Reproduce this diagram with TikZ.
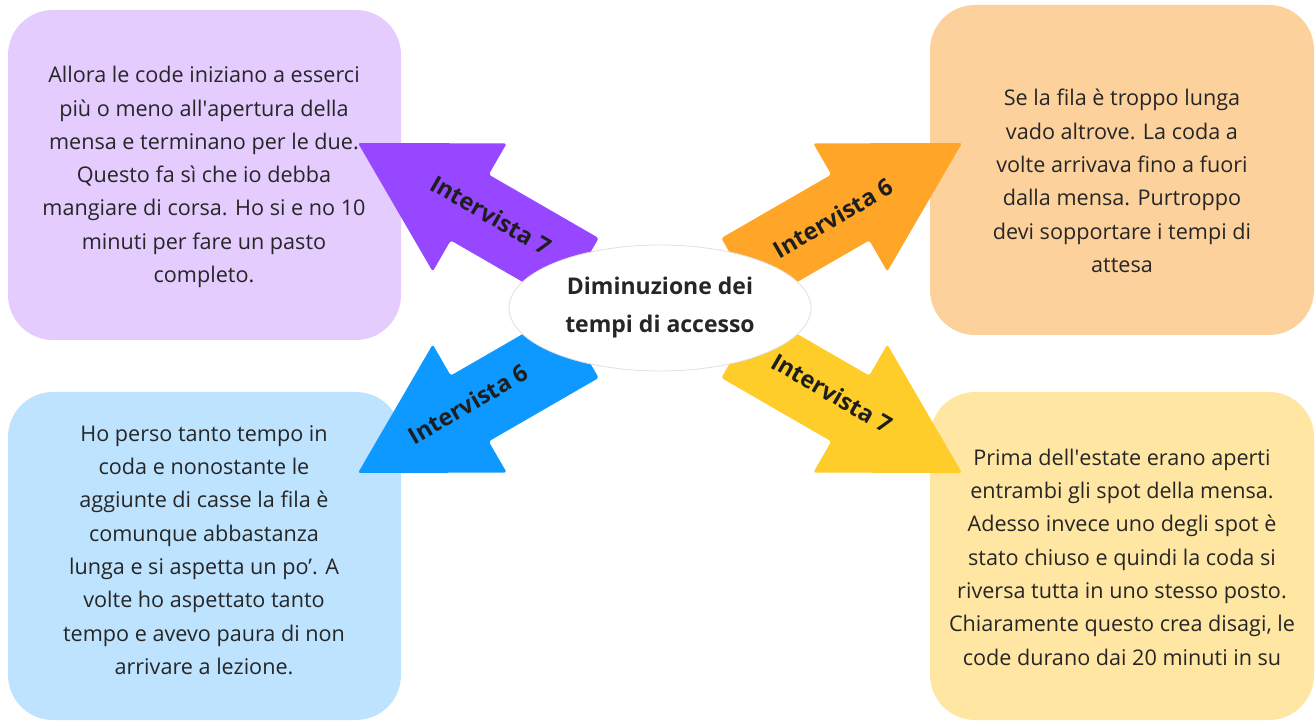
\documentclass[tikz,border=0pt]{standalone}
\usepackage{fontspec}
\setmainfont{Open Sans}
\usetikzlibrary{shapes.geometric}
\definecolor{pA}{HTML}{9747FF}
\definecolor{pB}{HTML}{E4CCFF}
\definecolor{oA}{HTML}{FFA629}
\definecolor{oB}{HTML}{FCD19C}
\definecolor{yA}{HTML}{FFCD29}
\definecolor{yB}{HTML}{FFE6A3}
\definecolor{bA}{HTML}{0D99FF}
\definecolor{bB}{HTML}{BDE3FF}
\definecolor{txc}{HTML}{262626}
\definecolor{labc}{HTML}{1E1E1E}
\begin{document}
\begin{tikzpicture}[x=1pt,y=1pt,
  boxshape/.style={draw=none, rounded corners=45pt, inner sep=0pt, minimum width=393pt, minimum height=330pt},
  boxtext/.style={align=center, text=txc, inner sep=0pt, font=\fontsize{21.6}{33.3}\selectfont},
  arrowlabel/.style={text=labc, inner sep=0pt, font=\bfseries\fontsize{23.5}{28}\selectfont},
  arrowbody/.style={rounded corners=2.5pt}]
\useasboundingbox (0,0) rectangle (1315,721);
% boxes
\node[boxshape, fill=pB] (pbox) at (204.5,546) {};
\node[boxshape, fill=oB, minimum width=384pt] (obox) at (1122,551) {};
\node[boxshape, fill=bB, minimum height=328pt] (bbox) at (204.5,165) {};
\node[boxshape, fill=yB, minimum width=384pt, minimum height=328pt] (ybox) at (1122,165) {};
% box texts
\node[boxtext] (ptext) at (204,544) {Allora le code iniziano a esserci\\
più o meno all\textquotesingle apertura della\\
mensa e terminano per le due.\\
Questo fa sì che io debba\\
mangiare di corsa. Ho si e no 10\\
minuti per fare un pasto\\
completo.};
\node[boxtext] (otext) at (1122,540) {Se la fila è troppo lunga\\
vado altrove. La coda a\\
volte arrivava fino a fuori\\
dalla mensa. Purtroppo\\
devi sopportare i tempi di\\
attesa};
\node[boxtext] (btext) at (204,171) {Ho perso tanto tempo in\\
coda e nonostante le\\
aggiunte di casse la fila è\\
comunque abbastanza\\
lunga e si aspetta un po’. A\\
volte ho aspettato tanto\\
tempo e avevo paura di non\\
arrivare a lezione.};
\node[boxtext] (ytext) at (1122,164) {Prima dell\textquotesingle estate erano aperti\\
entrambi gli spot della mensa.\\
Adesso invece uno degli spot è\\
stato chiuso e quindi la coda si\\
riversa tutta in uno stesso posto.\\
Chiaramente questo crea disagi, le\\
code durano dai 20 minuti in su};
% arrows
\begin{scope}[shift={(579.7,450)}, rotate=150]
\fill[pA, arrowbody] (0,-38) -- (127,-38) -- (127,-74) -- (256,0) -- (127,74) -- (127,38) -- (0,38) -- cycle;
\end{scope}
\begin{scope}[shift={(740.3,450)}, rotate=30]
\fill[oA, arrowbody] (0,-38) -- (127,-38) -- (127,-74) -- (256,0) -- (127,74) -- (127,38) -- (0,38) -- cycle;
\end{scope}
\begin{scope}[shift={(579.7,376)}, rotate=210]
\fill[bA, arrowbody] (0,-38) -- (127,-38) -- (127,-74) -- (256,0) -- (127,74) -- (127,38) -- (0,38) -- cycle;
\end{scope}
\begin{scope}[shift={(740.3,376)}, rotate=-30]
\fill[yA, arrowbody] (0,-38) -- (127,-38) -- (127,-74) -- (256,0) -- (127,74) -- (127,38) -- (0,38) -- cycle;
\end{scope}
% centre
\node[ellipse, draw=black!12, line width=0.8pt, fill=white, minimum width=302pt, minimum height=126pt, inner sep=0pt,
  align=center, text=txc, font=\bfseries\fontsize{23}{38}\selectfont] (centre) at (660,413) {Diminuzione dei\\tempi di accesso};
% labels
\node[arrowlabel, rotate=-30] (plabel) at (491,506) {Intervista 7};
\node[arrowlabel, rotate=30] (olabel) at (833,503) {Intervista 6};
\node[arrowlabel, rotate=30] (blabel) at (468,317) {Intervista 6};
\node[arrowlabel, rotate=-30] (ylabel) at (832,328) {Intervista 7};
\end{tikzpicture}
\end{document}
